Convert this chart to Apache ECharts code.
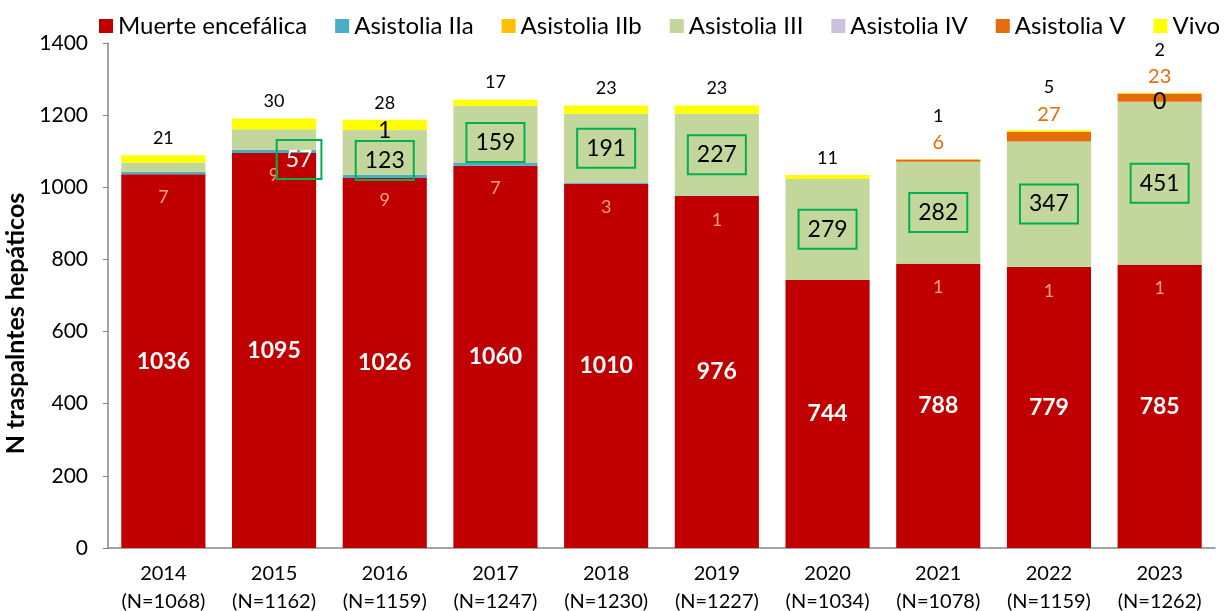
<!DOCTYPE html>
<html>
<head>
<meta charset="utf-8">
<script src="https://cdn.jsdelivr.net/npm/echarts@6/dist/echarts.min.js"></script>
<style>
  html, body { margin: 0; padding: 0; background: #fff; }
  #chart { width: 1227px; height: 611px; }
</style>
</head>
<body>
<div id="chart"></div>
<script>
// data
const years = ['2014', '2015', '2016', '2017', '2018', '2019', '2020', '2021', '2022', '2023']
const totalsN = [1068, 1162, 1159, 1247, 1230, 1227, 1034, 1078, 1159, 1262]

const muerteEncefalica = [1036, 1095, 1026, 1060, 1010, 976, 744, 788, 779, 785]
const asistoliaIIa = [7, 9, 9, 7, 3, 1, 0, 1, 1, 1]
const asistoliaIIb = [0, 0, 0, 0, 0, 0, 0, 0, 0, 0]
const asistoliaIII = [25, 57, 123, 159, 191, 227, 279, 282, 347, 451]
const asistoliaIV = [null, null, 1, null, null, null, null, null, null, 0]
const asistoliaV = [0, 0, 0, 0, 0, 0, 0, 6, 27, 23]
const vivo = [21, 30, 28, 17, 23, 23, 11, 1, 5, 2]

const FONT = 'Lato, "Open Sans", sans-serif'
const colors = {
  me: '#C00000', iia: '#4BACC6', iib: '#FFC000', iii: '#C3D69B',
  iv: '#CCC1DA', v: '#E46C0A', vivo: '#FFFF00'
}

const chart = echarts.init(document.getElementById('chart'))

// a few III labels were moved by hand in the original
const iiiTweaks = {
  0: { show: false },
  1: { offset: [25, 20], color: '#fff' },
  2: { offset: [0, 8] },
  3: { offset: [0, 8] }
}

const iiiData = asistoliaIII.map((v, i) => iiiTweaks[i] ? { value: v, label: iiiTweaks[i] } : v)
const vivoData = vivo.map((v, i) => asistoliaV[i] > 0 ? { value: v, label: { offset: [0, -26] } } : v)

const option = {
  animation: false,
  textStyle: { fontFamily: FONT },
  legend: {
    left: 94,
    top: 9,
    itemWidth: 14,
    itemHeight: 14,
    itemGap: 28,
    icon: 'rect',
    textStyle: { fontSize: 24, color: '#000', fontFamily: FONT },
    data: ['Muerte encefálica', 'Asistolia IIa', 'Asistolia IIb', 'Asistolia III', 'Asistolia IV', 'Asistolia V', 'Vivo']
  },
  grid: { left: 108, right: 12, top: 43, bottom: 63, outerBoundsMode: 'none' },
  xAxis: {
    type: 'category',
    data: years.map((y, i) => y + '\n(N=' + totalsN[i] + ')'),
    axisLine: { lineStyle: { color: '#868686', width: 1.5 } },
    axisTick: { inside: true, length: 8, lineStyle: { color: '#868686' } },
    axisLabel: { interval: 0, color: '#000', fontSize: 20, lineHeight: 28, margin: 12, fontFamily: FONT }
  },
  yAxis: {
    type: 'value',
    min: 0,
    max: 1400,
    interval: 200,
    name: 'N traspalntes hepáticos',
    nameLocation: 'middle',
    nameGap: 78,
    nameTextStyle: { fontSize: 25, fontWeight: 'bold', color: '#000', fontFamily: FONT, padding: [0, 56, 0, 0] },
    splitLine: { show: false },
    axisLine: { show: true, lineStyle: { color: '#868686', width: 1.5 } },
    axisTick: { show: true, length: 5, lineStyle: { color: '#868686' } },
    axisLabel: { color: '#000', fontSize: 21, margin: 20, fontFamily: FONT, formatter: v => String(v) }
  },
  series: [
    {
      name: 'Muerte encefálica', type: 'bar', stack: 'total', barCategoryGap: '24%',
      itemStyle: { color: colors.me },
      label: { show: true, position: 'inside', color: '#fff', fontWeight: 'bold', fontSize: 23, fontFamily: FONT },
      data: muerteEncefalica
    },
    {
      name: 'Asistolia IIa', type: 'bar', stack: 'total',
      itemStyle: { color: colors.iia },
      label: {
        show: true, position: 'inside', offset: [0, 24], color: '#F6A96C', fontSize: 18, fontFamily: FONT,
        formatter: p => p.value > 0 ? p.value : ''
      },
      data: asistoliaIIa
    },
    {
      name: 'Asistolia IIb', type: 'bar', stack: 'total',
      itemStyle: { color: colors.iib },
      data: asistoliaIIb
    },
    {
      name: 'Asistolia III', type: 'bar', stack: 'total',
      itemStyle: { color: colors.iii },
      label: {
        show: true, position: 'inside', color: '#000', fontSize: 23, lineHeight: 25, fontFamily: FONT,
        borderColor: '#00B050', borderWidth: 2, padding: [7, 9]
      },
      data: iiiData
    },
    {
      name: 'Asistolia IV', type: 'bar', stack: 'total',
      itemStyle: { color: colors.iv },
      label: { show: true, position: 'inside', color: '#000', fontSize: 23, fontFamily: FONT },
      data: asistoliaIV
    },
    {
      name: 'Asistolia V', type: 'bar', stack: 'total',
      itemStyle: { color: colors.v },
      label: {
        show: true, position: 'top', distance: 7, color: '#E46C0A', fontSize: 20, fontFamily: FONT,
        formatter: p => p.value > 0 ? p.value : ''
      },
      data: asistoliaV
    },
    {
      name: 'Vivo', type: 'bar', stack: 'total',
      itemStyle: { color: colors.vivo },
      label: { show: true, position: 'top', distance: 8, color: '#000', fontSize: 18, fontFamily: FONT },
      data: vivoData
    }
  ]
}

chart.setOption(option)
</script>
</body>
</html>
